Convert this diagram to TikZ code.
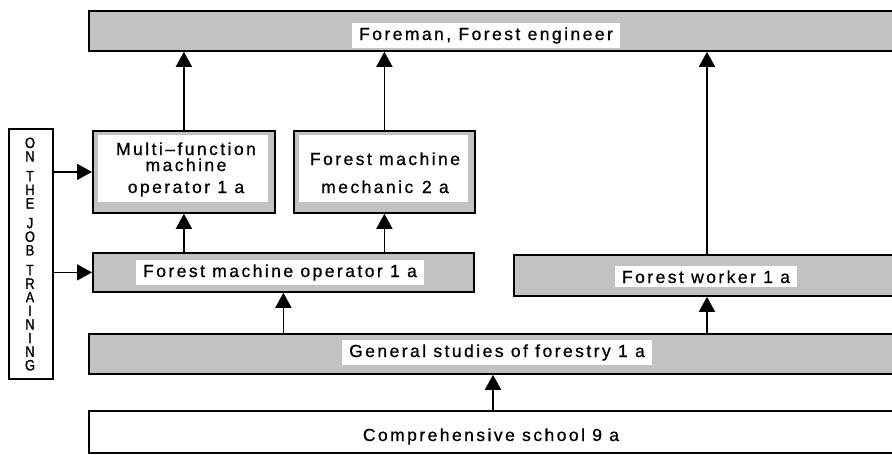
\documentclass[tikz,border=0pt]{standalone}
\usepackage{fontspec}
\setmainfont{Liberation Sans}
\newfontfamily\labf[LetterSpace=14,Ligatures=TeX,FakeBold=0.8]{Liberation Sans}
\newfontfamily\narrowf[FakeStretch=0.85,FakeBold=1.2]{Liberation Sans}
\usetikzlibrary{arrows.meta}
\begin{document}
\begin{tikzpicture}[x=1pt,y=-1pt,
  shaded/.style={draw, line width=1.8pt, fill=black!24, anchor=north west, inner sep=0pt},
  plain/.style={draw, line width=1.8pt, fill=white, anchor=north west, inner sep=0pt},
  lab/.style={fill=white, inner xsep=7pt, inner ysep=4pt, anchor=base, font=\labf\fontsize{17.5}{20}\selectfont},
  txt/.style={inner sep=0pt, anchor=base, font=\labf\fontsize{17.5}{20}\selectfont},
  otjl/.style={inner sep=0pt, anchor=base, font=\narrowf\fontsize{15}{15}\selectfont},
  arr/.style={line width=1.6pt, -{Triangle[length=15pt,width=16pt]}}]
\clip (0,0) rectangle (892,455);
\fill[white] (0,0) rectangle (892,455);
% boxes
\node[shaded, minimum width=830pt, minimum height=40pt] (fore) at (88,10) {};
\node[lab] (foretxt) at (486,40) {Foreman, Forest engineer};
\node[shaded, minimum width=182pt, minimum height=82pt] (multi) at (92,130) {};
\fill[white] (98,135) rectangle (268,202);
\node[txt] (multiA) at (186,155) {Multi–function};
\node[txt] (multiB) at (186,171) {machine};
\node[txt] (multiC) at (186,193) {operator 1 a};
\node[shaded, minimum width=181pt, minimum height=82pt] (mech) at (293,130) {};
\fill[white] (299,135) rectangle (468,202);
\node[txt] (mechA) at (385,165) {Forest machine};
\node[txt] (mechB) at (385,193) {mechanic\enspace 2 a};
\node[shaded, minimum width=381pt, minimum height=39pt] (fmo) at (92,252) {};
\node[lab] (fmotxt) at (280,277) {Forest machine operator 1 a};
\node[shaded, minimum width=400pt, minimum height=41pt] (work) at (513,254) {};
\node[lab] (worktxt) at (706,283) {Forest worker 1 a};
\node[shaded, minimum width=830pt, minimum height=40pt] (gen) at (88,333) {};
\node[lab] (gentxt) at (497,357) {General studies of forestry 1 a};
\node[plain, minimum width=830pt, minimum height=42pt] (comp) at (88,410) {};
\node[lab, fill=none] (comptxt) at (491,441) {Comprehensive school 9 a};
% on the job training
\node[draw, line width=1.8pt, minimum width=44pt, minimum height=250pt, anchor=north west, inner sep=0pt] (otj) at (8,128) {};
\foreach \l/\yy [count=\i] in {O/0,N/1,T/2.45,H/3.45,E/4.45,J/5.9,O/6.9,B/7.9,T/9.35,R/10.35,A/11.35,I/12.35,N/13.35,I/14.35,N/15.35,G/16.35}
  \node[otjl] (otj\i) at (30,{148+13.6*\yy}) {\l};
% arrows
\coordinate (wx) at (707,0);
\coordinate (cx) at (493,0);
\draw[arr] (multi.north) -- (multi.north |- fore.south);
\draw[arr] (mech.north) -- (mech.north |- fore.south);
\draw[arr] (work.north -| wx) -- (wx |- fore.south);
\draw[arr] (multi.south |- fmo.north) -- (multi.south);
\draw[arr] (mech.south |- fmo.north) -- (mech.south);
\draw[arr] (fmo.south |- gen.north) -- (fmo.south);
\draw[arr] (wx |- gen.north) -- (wx |- work.south);
\draw[arr] (cx |- comp.north) -- (cx |- gen.south);
\draw[arr] (otj.east |- multi.west) -- (multi.west);
\draw[arr] (otj.east |- fmo.west) -- (fmo.west);
\end{tikzpicture}
\end{document}
